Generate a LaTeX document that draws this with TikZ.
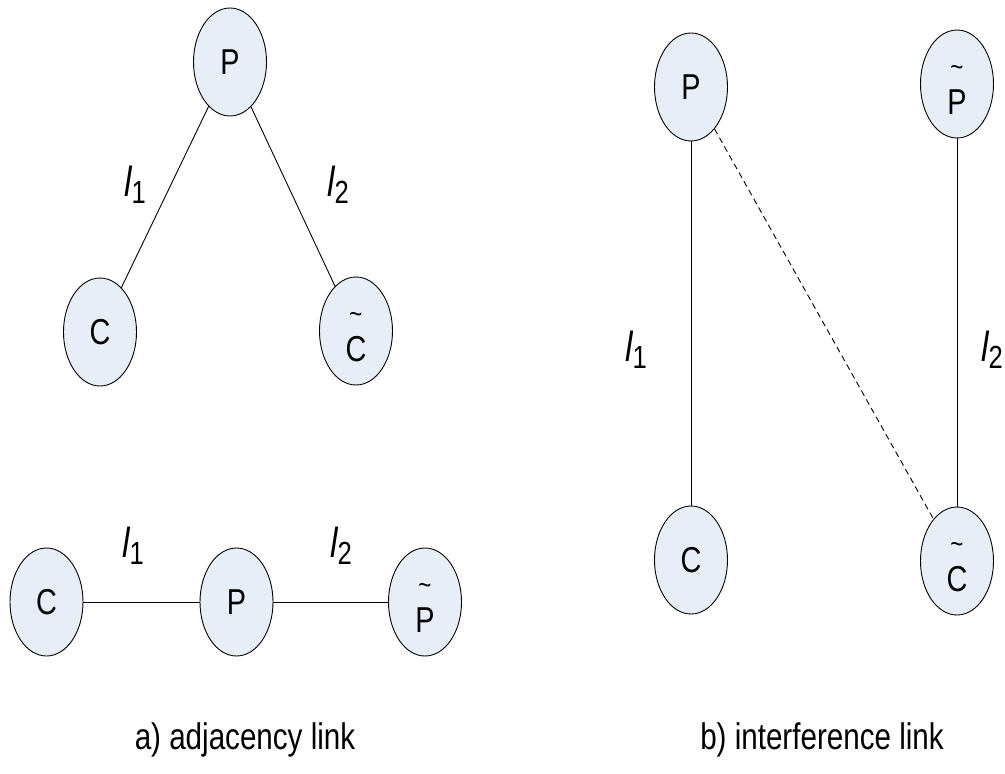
\documentclass[tikz,border=0pt]{standalone}
\usepackage{fontspec}
\setmainfont{Liberation Sans}[FakeStretch=0.8]
\usetikzlibrary{shapes.geometric}
\definecolor{nodefill}{RGB}{232,238,247}
\newcommand\ltr[1]{\fontsize{36}{36}\selectfont #1}
\newcommand\wt[1]{\makebox[0pt]{\smash{\raisebox{8pt}{\fontsize{28}{28}\selectfont\textasciitilde}}}\makebox[0pt]{\smash{\raisebox{-30pt}{\fontsize{36}{36}\selectfont #1}}}}
\newcommand\lab[1]{{\fontsize{42}{42}\selectfont\itshape l}\raisebox{-7pt}{\fontsize{32}{32}\selectfont #1}}
\tikzset{
  nd/.style={ellipse,draw=black,line width=0.9pt,fill=nodefill,minimum width=73pt,minimum height=108pt,inner sep=0pt},
  ln/.style={line width=0.9pt},
  dsh/.style={line width=0.9pt,dash pattern=on 6pt off 4pt},
  lb/.style={inner sep=0pt},
  captext/.style={inner sep=0pt,font=\fontsize{37}{37}\selectfont}
}
\begin{document}
\begin{tikzpicture}[x=1pt,y=-1pt]
\useasboundingbox (0,0) rectangle (1005,774);
% a) top
\node[nd] (PA) at (230,62) {\ltr{P}};
\node[nd] (CA) at (100,332) {\ltr{C}};
\node[nd] (CtA) at (356,331) {\wt{C}};
\draw[ln] (PA) -- (CA);
\draw[ln] (PA) -- (CtA);
\node[lb] (la1) at (135,185) {\lab{1}};
\node[lb] (la2) at (338,185) {\lab{2}};
% a) bottom
\node[nd] (CB) at (46.5,602) {\ltr{C}};
\node[nd] (PB) at (236.5,602) {\ltr{P}};
\node[nd] (PtB) at (425,602) {\wt{P}};
\draw[ln] (CB) -- (PB);
\draw[ln] (PB) -- (PtB);
\node[lb] (lb1) at (133,546) {\lab{1}};
\node[lb] (lb2) at (341,546) {\lab{2}};
\node[captext] (capa) at (245,740) {a) adjacency link};
% b)
\node[nd] (PR) at (691,87) {\ltr{P}};
\node[nd] (PtR) at (957,84) {\wt{P}};
\node[nd] (CR) at (691,560) {\ltr{C}};
\node[nd] (CtR) at (957,561) {\wt{C}};
\draw[ln] (PR) -- (CR);
\draw[ln] (PtR) -- (CtR);
\draw[dsh] (PR) -- (CtR);
\node[lb] (lr1) at (636,350) {\lab{1}};
\node[lb] (lr2) at (992,350) {\lab{2}};
\node[captext] (capb) at (822,740) {b) interference link};
\end{tikzpicture}
\end{document}
